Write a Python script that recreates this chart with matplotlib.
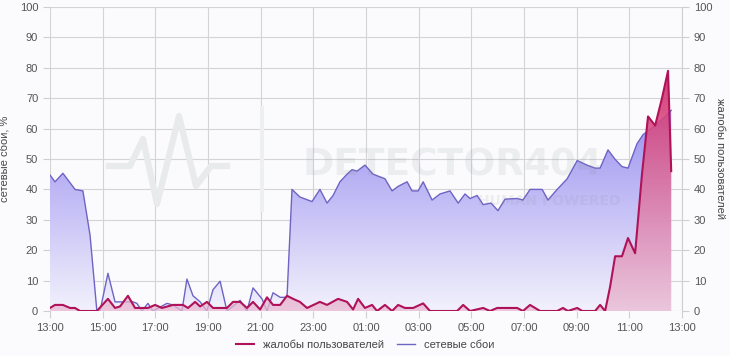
import numpy as np
import matplotlib
matplotlib.use('Agg')
import matplotlib.pyplot as plt
from matplotlib.colors import to_rgba

plt.rcParams['font.family'] = ['Liberation Sans', 'DejaVu Sans']

# ---------- data: hours after 13:00 ----------
net_h = [0.00, 0.19, 0.49, 0.95, 1.25, 1.52, 1.78, 1.90, 2.20, 2.47, 3.15, 3.30, 3.49,
         3.72, 3.91, 4.44, 4.67, 5.01, 5.20, 5.43, 5.70, 5.96, 6.19, 6.46, 6.72, 7.22,
         7.48, 7.71, 8.05, 8.24, 8.47, 8.74, 9.00, 9.19, 9.49, 9.95, 10.25, 10.52,
         10.75, 11.01, 11.28, 11.47, 11.66, 11.96, 12.27, 12.72, 12.99, 13.22, 13.56,
         13.75, 13.98, 14.17, 14.51, 14.81, 15.19, 15.50, 15.76, 15.95, 16.22, 16.45,
         16.75, 17.01, 17.28, 17.74, 17.96, 18.23, 18.69, 18.91, 19.26, 19.64, 20.02,
         20.39, 20.70, 20.89, 21.19, 21.45, 21.72, 21.95, 22.29, 22.52, 22.98, 23.36,
         23.59]
net_v = [44.7, 42.5, 45.3, 40, 39.5, 25, 0, 0, 12.4, 3, 3, 2.5, 0,
         2.5, 0, 2.5, 2, 0, 10.5, 5, 3, 0, 7, 9.8, 0, 3.5,
         0, 7.6, 4, 0, 6, 4.5, 4.5, 40, 37.5, 36, 40, 35.5,
         38, 42.5, 45, 46.5, 46, 48, 45, 43.5, 39.5, 41, 42.5,
         39.5, 39.5, 42.5, 36.5, 38.5, 39.5, 35.5, 38.5, 37, 38, 35,
         35.5, 33, 36.8, 37, 36.5, 40, 40, 36.5, 40, 43.5, 49.5,
         48, 47, 47, 53, 50, 47.5, 47, 55, 58, 61, 64,
         66]

comp_h = [0.00, 0.19, 0.49, 0.76, 0.95, 1.14, 1.78, 2.20, 2.47, 2.66, 2.96, 3.23, 3.72,
          3.99, 4.25, 4.67, 5.05, 5.24, 5.51, 5.70, 5.96, 6.19, 6.72, 6.95, 7.22, 7.48,
          7.71, 7.98, 8.24, 8.47, 8.74, 9.00, 9.23, 9.49, 9.76, 10.25, 10.52, 10.94,
          11.28, 11.51, 11.70, 11.96, 12.23, 12.42, 12.72, 12.99, 13.22, 13.48, 13.79,
          14.17, 14.43, 15.46, 15.69, 15.95, 16.45, 16.71, 16.98, 17.74, 17.96, 18.23,
          18.61, 19.26, 19.48, 19.67, 20.02, 20.21, 20.70, 20.89, 21.08, 21.27, 21.46,
          21.72, 21.95, 22.22, 22.48, 22.71, 22.98, 23.24, 23.47, 23.59]
comp_v = [1, 2, 2, 1, 1, 0, 0, 4, 1, 1.5, 5, 1, 1,
          2, 1, 2, 2, 1, 3, 1.5, 3, 1, 1, 3, 3, 1,
          3, 0.5, 4.5, 2, 2, 5, 4, 3, 1, 3, 2, 4,
          3, 0.5, 4, 1, 2, 0, 2, 0, 2, 1, 1,
          2.5, 0, 0, 2, 0, 1, 0, 1, 1, 0, 2,
          0, 0, 1, 0, 1, 0, 0, 2, 0, 8, 18,
          18, 24, 19, 45, 64, 61, 70, 79, 46]

tick_hours = list(range(0, 25, 2))
tick_labels = ['13:00', '15:00', '17:00', '19:00', '21:00', '23:00', '01:00',
               '03:00', '05:00', '07:00', '09:00', '11:00', '13:00']


def gradient_fill(ax, x, y, top, bottom, alpha_top, alpha_bottom, z):
    x = np.asarray(x)
    y = np.asarray(y)
    c_top = np.array(to_rgba(top, alpha_top))
    c_bot = np.array(to_rgba(bottom, alpha_bottom))
    t = np.linspace(0, 1, 256)[:, None]
    img = (c_bot + (c_top - c_bot) * t)[:, None, :]
    im = ax.imshow(img, extent=[x.min(), x.max(), 0, y.max()], origin='lower',
                   aspect='auto', zorder=z, interpolation='bilinear')
    poly = ax.fill_between(x, y, 0, facecolor='none', edgecolor='none', zorder=z)
    im.set_clip_path(poly.get_paths()[0], transform=ax.transData)


fig = plt.figure(figsize=(7.3, 3.56), dpi=100, facecolor='#fbfbfd')
ax = fig.add_axes([50 / 730, 45 / 356, 632 / 730, 304 / 356])
ax.set_facecolor('#fbfbfd')

# watermark
px = [109, 130, 143, 157, 179, 196, 211, 227]
py = [166, 166, 139, 204, 116, 186, 166, 166]
fig.add_artist(plt.Line2D([v / 730 for v in px], [1 - v / 356 for v in py],
                          color='#e9eaec', lw=4.5, zorder=0.5))
fig.add_artist(plt.Line2D([262 / 730, 262 / 730], [1 - 108 / 356, 1 - 210 / 356],
                          color='#eeeff1', lw=3, zorder=0.5))

gradient_fill(ax, net_h, net_v, '#9b92f0', '#f2f1fc', 1.0, 1.0, 1)
ax.plot(net_h, net_v, color='#6d64c4', lw=1.0, zorder=2, label='сетевые сбои')
gradient_fill(ax, comp_h, comp_v, '#d32a68', '#e9b8d2', 0.92, 0.75, 3)
ax.plot(comp_h, comp_v, color='#b0125a', lw=1.5, zorder=4, label='жалобы пользователей')

fig.text(453 / 730, 1 - 166 / 356, 'DETECTOR404', color='#8a9096', alpha=0.13,
         fontsize=27, fontweight='bold', ha='center', va='center', zorder=5,
         family='DejaVu Sans')
fig.text(621 / 730, 1 - 201 / 356, 'HUMAN POWERED', color='#8a9096', alpha=0.12,
         fontsize=10, fontweight='bold', ha='right', va='center', zorder=5,
         family='DejaVu Sans')

ax.set_xlim(0, 24)
ax.set_ylim(0, 100)
ax.set_xticks(tick_hours)
ax.set_xticklabels(tick_labels)
ax.set_yticks(range(0, 101, 10))
ax.grid(True, color='#d4d4d6', lw=0.8)
ax.set_axisbelow(True)
for s in ax.spines.values():
    s.set_visible(False)
ax.tick_params(colors='#cfcfd2', labelcolor='#555555', labelsize=8, length=5, width=0.8)
ax.set_ylabel('сетевые сбои, %', color='#444444', fontsize=8)
ax.yaxis.set_label_coords(-40 / 632, 0.5)

ax2 = ax.twinx()
ax2.set_ylim(0, 100)
ax2.set_yticks(range(0, 101, 10))
for s in ax2.spines.values():
    s.set_visible(False)
ax2.spines['right'].set_visible(True)
ax2.spines['right'].set_color('#cfcfd2')
ax2.tick_params(colors='#cfcfd2', labelcolor='#555555', labelsize=8, length=5, width=0.8)
ax2.set_ylabel('жалобы пользователей', color='#444444', fontsize=8, rotation=270,
               va='center')
ax2.yaxis.set_label_coords(670 / 632, 0.5)

h, l = ax.get_legend_handles_labels()
fig.legend(h[::-1], l[::-1], loc='lower center', bbox_to_anchor=(0.5, -0.01), ncol=2,
           frameon=False, fontsize=8, handlelength=1.6, columnspacing=1.2,
           labelcolor='#444444')

fig.savefig('out.png', dpi=100, facecolor=fig.get_facecolor())
